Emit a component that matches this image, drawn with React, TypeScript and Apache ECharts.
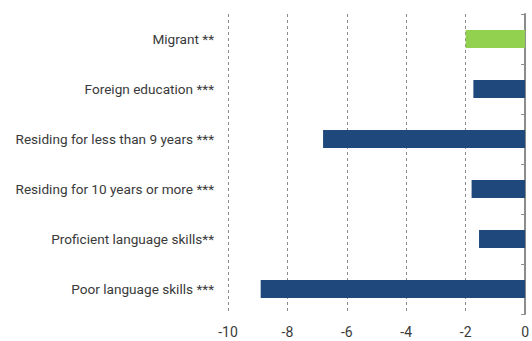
import React, { useEffect, useRef } from "react";
import * as echarts from "echarts";

const categories = [
  "Migrant **",
  "Foreign education ***",
  "Residing for less than 9 years ***",
  "Residing for 10 years or more ***",
  "Proficient language skills**",
  "Poor language skills ***",
];
const values = [-2.0, -1.74, -6.8, -1.8, -1.55, -8.9];
const barColors = ["#92D050", "#1F497D", "#1F497D", "#1F497D", "#1F497D", "#1F497D"];
const xMin = -10;
const xMax = 0;
const xStep = 2;

export default function App() {
  const ref = useRef<HTMLDivElement>(null);
  useEffect(() => {
    const chart = echarts.init(ref.current!, null, { renderer: "svg" });
    const font = "Roboto";
    chart.setOption({
      animation: false,
      grid: { left: 228, right: 4, top: 14, bottom: 27, containLabel: false },
      xAxis: {
        type: "value",
        min: xMin,
        max: xMax,
        interval: xStep,
        axisLine: { show: false },
        axisTick: { show: false },
        axisLabel: { color: "#3a3a3a", fontSize: 14, fontFamily: font, margin: 11 },
        splitLine: { show: true, lineStyle: { type: [3, 3], color: "#8c8c8c", width: 1 } },
      },
      yAxis: [
        {
          type: "category",
          data: categories,
          inverse: true,
          position: "left",
          axisLine: { show: false, onZero: false },
          axisTick: { show: false },
          axisLabel: { color: "#3a3a3a", fontSize: 13.6, fontFamily: font, margin: 14 },
          splitLine: { show: false },
        },
        {
          type: "category",
          data: categories,
          inverse: true,
          position: "right",
          axisLine: { show: true, onZero: false, lineStyle: { color: "#8c8c8c", width: 2 } },
          axisTick: { show: true, inside: true, length: 4, lineStyle: { color: "#8c8c8c", width: 1 } },
          axisLabel: { show: false },
          splitLine: { show: false },
        },
      ],
      series: [
        {
          type: "bar",
          yAxisIndex: 0,
          barWidth: 18,
          data: values.map((v, i) => ({ value: v, itemStyle: { color: barColors[i] } })),
        },
      ],
    });
    return () => chart.dispose();
  }, []);
  return <div ref={ref} style={{ width: 532, height: 341, position: "absolute", left: 0, top: 0 }} />;
}
